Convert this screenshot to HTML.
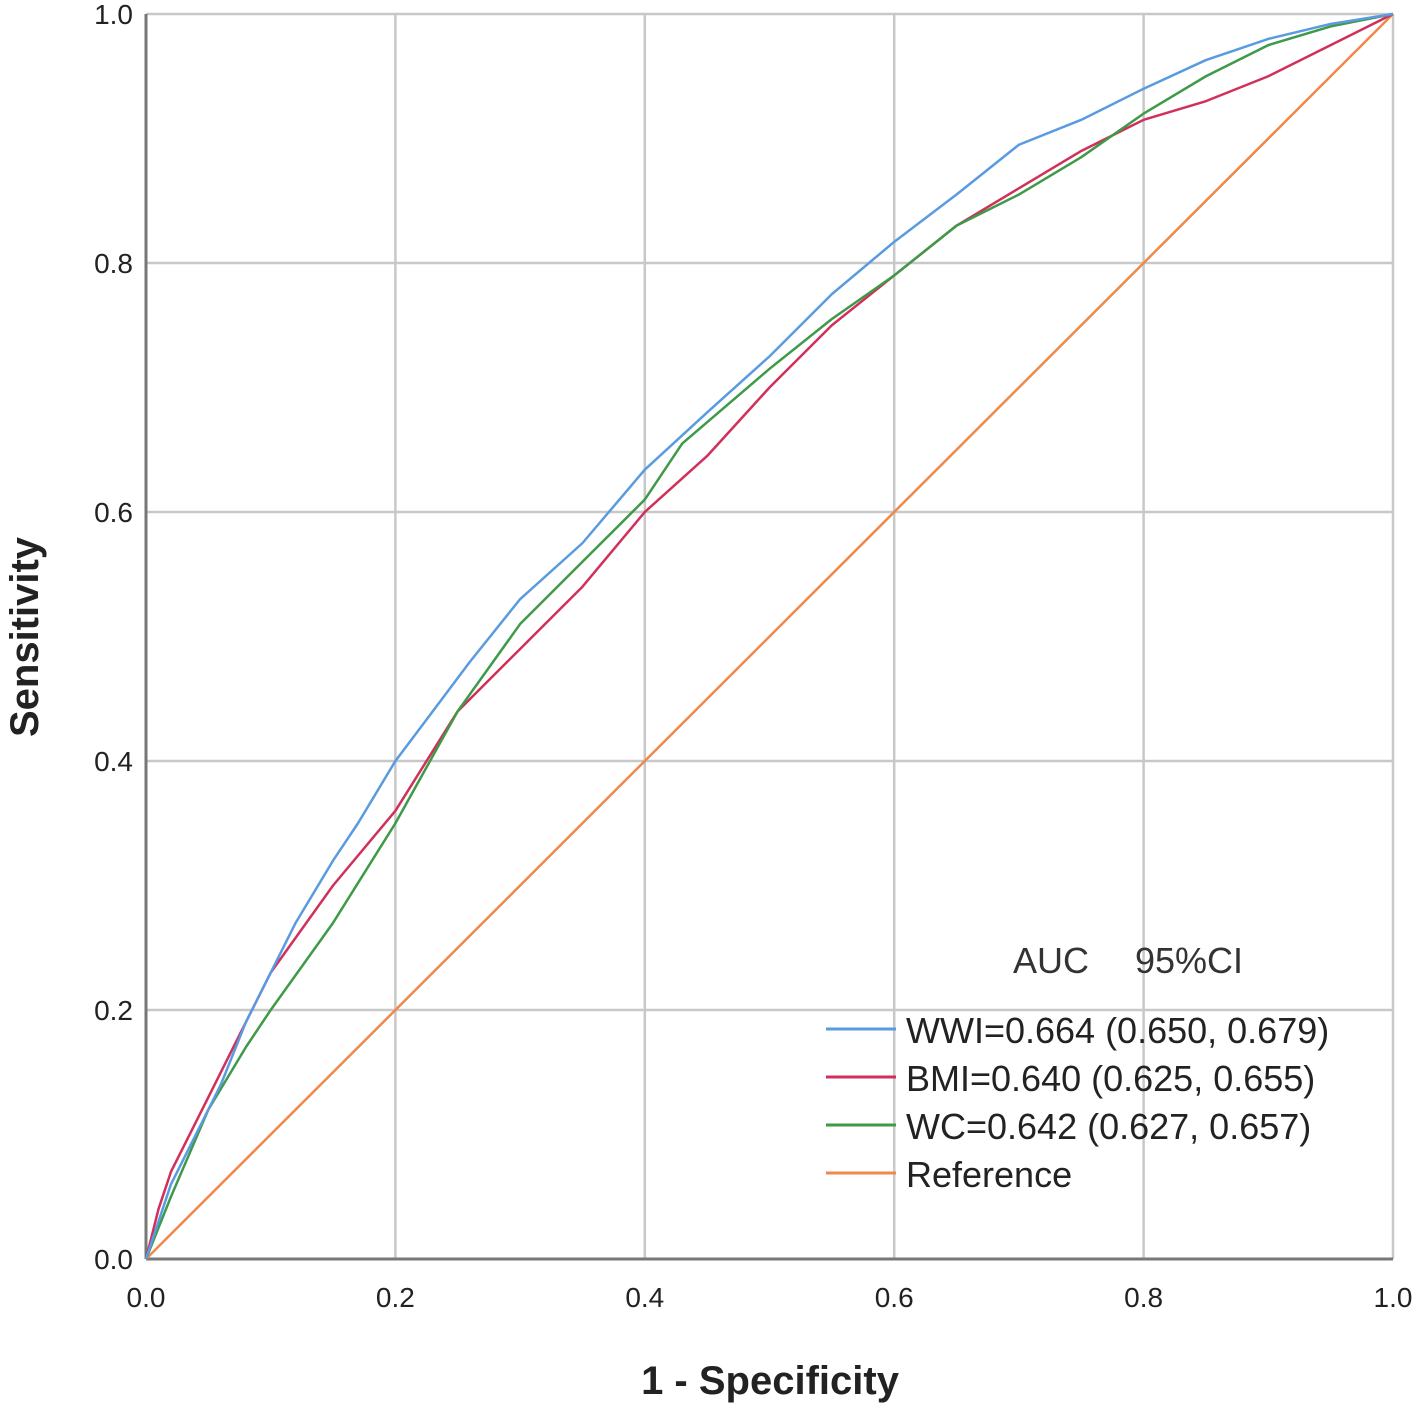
<!DOCTYPE html>
<html><head><meta charset="utf-8"><style>
body{margin:0;background:#fff;}
svg{display:block;font-family:"Liberation Sans",Arial,sans-serif;}
</style></head><body>
<svg id="chart" width="1417" height="1408" viewBox="0 0 1417 1408"></svg>
<script>
const ticks=[0,0.2,0.4,0.6,0.8,1.0];
const tickLabels=["0.0","0.2","0.4","0.6","0.8","1.0"];
const wwiX=[0,0.01,0.02,0.04,0.06,0.08,0.10,0.12,0.15,0.17,0.20,0.23,0.26,0.30,0.35,0.40,0.45,0.50,0.55,0.60,0.65,0.70,0.75,0.80,0.85,0.90,0.95,1];
const wwiY=[0,0.03,0.06,0.10,0.14,0.19,0.23,0.27,0.32,0.35,0.40,0.44,0.48,0.53,0.575,0.634,0.68,0.725,0.775,0.817,0.855,0.895,0.915,0.94,0.963,0.98,0.992,1];
const bmiX=[0,0.01,0.02,0.05,0.08,0.10,0.15,0.20,0.25,0.30,0.35,0.40,0.45,0.50,0.55,0.60,0.65,0.70,0.75,0.80,0.85,0.90,0.95,1];
const bmiY=[0,0.04,0.07,0.13,0.19,0.23,0.30,0.36,0.44,0.49,0.54,0.60,0.645,0.70,0.75,0.79,0.83,0.86,0.89,0.915,0.93,0.95,0.975,1];
const wcX=[0,0.01,0.02,0.05,0.08,0.10,0.15,0.20,0.25,0.30,0.35,0.40,0.43,0.50,0.55,0.60,0.65,0.70,0.75,0.80,0.85,0.90,0.95,1];
const wcY=[0,0.025,0.05,0.12,0.17,0.20,0.27,0.35,0.44,0.51,0.56,0.61,0.655,0.715,0.755,0.79,0.83,0.855,0.885,0.92,0.95,0.975,0.99,1];
const refX=[0,1];
const refY=[0,1];
const X0=146,X1=1393,Y0=1259,Y1=14;
const sx=v=>X0+v*(X1-X0);
const sy=v=>Y0-v*(Y0-Y1);
const NS="http://www.w3.org/2000/svg";
const svg=document.getElementById('chart');
function mk(tag,attrs,parent){const e=document.createElementNS(NS,tag);for(const k in attrs)e.setAttribute(k,attrs[k]);(parent||svg).appendChild(e);return e;}
ticks.forEach((t,i)=>{
 if(i>0){const g=mk('line',{x1:sx(t),x2:sx(t),y1:Y1,y2:Y0,stroke:'#c8c8c8','stroke-width':2.5});
 
 
 const h=mk('line',{x1:X0,x2:X1,y1:sy(t),y2:sy(t),stroke:'#c8c8c8','stroke-width':2.5});
 
 }
 const xl=mk('text',{x:sx(t),y:1307,'text-anchor':'middle','font-size':28,fill:'#222'});xl.textContent=tickLabels[i];
 
 
 const yl=mk('text',{x:133,y:sy(t)+10,'text-anchor':'end','font-size':28,fill:'#222'});yl.textContent=tickLabels[i];
 
 
});
const ax=mk('line',{x1:X0,x2:X0,y1:Y1,y2:Y0,stroke:'#777','stroke-width':3});


const bx=mk('line',{x1:X0,x2:X1,y1:Y0,y2:Y0,stroke:'#777','stroke-width':3});


function line(xs,ys,color,name){
 const p=mk('polyline',{points:xs.map((x,i)=>sx(x)+','+sy(ys[i])).join(' '),fill:'none',stroke:color,'stroke-width':2.5,'stroke-linejoin':'round'});
 
 
}
line(refX,refY,'#f0884a','reference-line');
line(bmiX,bmiY,'#d0305a','bmi-curve');
line(wcX,wcY,'#3e9a48','wc-curve');
line(wwiX,wwiY,'#5a9be0','wwi-curve');
const xt=mk('text',{x:770,y:1394,'text-anchor':'middle','font-size':40,'font-weight':'bold',fill:'#222'});xt.textContent='1 - Specificity';


const yt=mk('text',{x:0,y:0,'text-anchor':'middle','font-size':40,'font-weight':'bold',fill:'#222',transform:'translate(38,637) rotate(-90)'});yt.textContent='Sensitivity';


const lh=mk('text',{x:1013,y:973,'font-size':36,fill:'#333'});lh.textContent='AUC';


const lh2=mk('text',{x:1135,y:973,'font-size':36,fill:'#333'});lh2.textContent='95%CI';


const legLabels=['WWI=0.664 (0.650, 0.679)','BMI=0.640 (0.625, 0.655)','WC=0.642 (0.627, 0.657)','Reference'];
const legColors=['#5a9be0','#d0305a','#3e9a48','#f0884a'];
legLabels.forEach((s,i)=>{
 const y=1029+i*48;
 const l=mk('line',{x1:826,x2:896,y1:y,y2:y,stroke:legColors[i],'stroke-width':3});
 
 
 const t=mk('text',{x:906,y:y+14,'font-size':36,fill:'#222'});t.textContent=s;
 
 
});
</script>
</body></html>
